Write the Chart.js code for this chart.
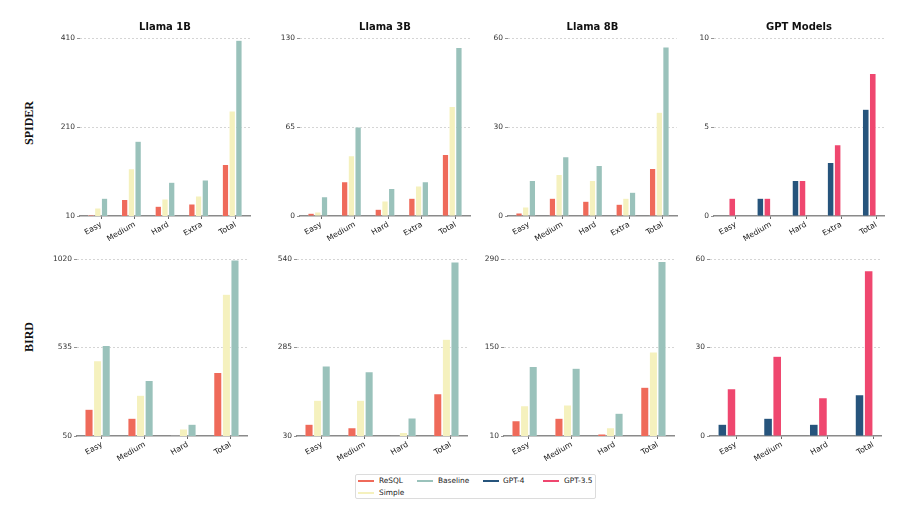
<!DOCTYPE html>
<html>
<head>
<meta charset="utf-8">
<script src="https://cdn.jsdelivr.net/npm/chart.js@4.4.1/dist/chart.umd.min.js"></script>
<style>
  html, body { margin: 0; padding: 0; background: #fff; }
  body { width: 903px; height: 508px; position: relative; overflow: hidden; font-family: "DejaVu Sans", sans-serif; }
  canvas { position: absolute; }
  .rowlab { position: absolute; font-family: "Liberation Serif", "Times New Roman", serif; font-weight: bold; font-size: 12px; color: #111;
            transform: translate(-50%, -50%) rotate(-90deg); white-space: nowrap; }
  #legend { position: absolute; left: 355px; top: 474px; width: 241px; height: 25px; border: 1px solid #dcdcdc; border-radius: 2px; box-sizing: border-box; }
  .sw { position: absolute; height: 2px; width: 16px; }
  .lt { position: absolute; font-size: 7.4px; color: #222; line-height: 8px; white-space: nowrap; }
</style>
</head>
<body>
<div class="rowlab" style="left:29px; top:123px;">SPIDER</div>
<div class="rowlab" style="left:29px; top:337px;">BIRD</div>
<div id="legend"></div>
<script>
// ---------------- data ----------------
const categoriesSpider = ['Easy', 'Medium', 'Hard', 'Extra', 'Total'];
const categoriesBird = ['Easy', 'Medium', 'Hard', 'Total'];

const spider1B_resql    = [12, 47, 32, 37, 126];
const spider1B_simple   = [28, 116, 48, 55, 246];
const spider1B_baseline = [50, 178, 86, 91, 405];

const spider3B_resql    = [2, 25, 5, 13, 45];
const spider3B_simple   = [3, 44, 11, 22, 80];
const spider3B_baseline = [14, 65, 20, 25, 123];

const spider8B_resql    = [1, 6, 5, 4, 16];
const spider8B_simple   = [3, 14, 12, 6, 35];
const spider8B_baseline = [12, 20, 17, 8, 57];

const spiderGpt4  = [0, 1, 2, 3, 6];
const spiderGpt35 = [1, 1, 2, 4, 8];

const bird1B_resql    = [196, 147, 53, 398];
const bird1B_simple   = [462, 274, 88, 827];
const bird1B_baseline = [546, 354, 114, 1014];

const bird3B_resql    = [64, 54, 31, 152];
const bird3B_simple   = [133, 133, 40, 309];
const bird3B_baseline = [232, 215, 82, 531];

const bird8B_resql    = [34, 38, 13, 87];
const bird8B_simple   = [58, 59, 23, 143];
const bird8B_baseline = [120, 117, 46, 286];

const birdGpt4  = [4, 6, 4, 14];
const birdGpt35 = [16, 27, 13, 56];

const yTicksSpider1B = [10, 210, 410];
const yTicksSpider3B = [0, 65, 130];
const yTicksSpider8B = [0, 30, 60];
const yTicksSpiderGpt = [0, 5, 10];
const yTicksBird1B = [50, 535, 1020];
const yTicksBird3B = [30, 285, 540];
const yTicksBird8B = [10, 150, 290];
const yTicksBirdGpt = [0, 30, 60];

const titles = ['Llama 1B', 'Llama 3B', 'Llama 8B', 'GPT Models'];

// ---------------- styles ----------------
const COLORS = {
  'ReSQL': '#EF6A5A',
  'Simple': '#F5F1BE',
  'Baseline': '#9AC2BB',
  'GPT-4': '#26547C',
  'GPT-3.5': '#EF476F'
};

const titlePlugin = {
  id: 'panelTitle',
  afterDraw(chart, args, opts) {
    if (!opts || !opts.text) return;
    const ctx = chart.ctx, a = chart.chartArea;
    ctx.save();
    ctx.font = 'bold 10px "DejaVu Sans"';
    ctx.fillStyle = '#111';
    ctx.textAlign = 'center';
    ctx.textBaseline = 'middle';
    ctx.fillText(opts.text, (a.left + a.right) / 2, a.top - 11);
    ctx.restore();
  }
};

const PADL = 50, PADT = 30, PADR = 10, PADB = 45;

function makePanel(area, categories, series, yTicks, title, isGpt) {
  const [L, R, T, B] = area;
  const cv = document.createElement('canvas');
  const w = Math.round(R - L) + PADL + PADR;
  const h = Math.round(B - T) + PADT + PADB;
  cv.style.width = w + 'px';
  cv.style.height = h + 'px';
  cv.width = w; cv.height = h;
  const wrap = document.createElement('div');
  wrap.style.cssText = 'position:absolute;left:' + Math.round(L - PADL) + 'px;top:' + Math.round(T - PADT) + 'px;width:' + w + 'px;height:' + h + 'px;';
  cv.style.left = '0px'; cv.style.top = '0px';
  wrap.appendChild(cv);
  document.body.appendChild(wrap);

  const n = categories.length;
  const datasets = series.map(s => ({
    label: s.name,
    data: categories.map((c, i) => ({ x: i, y: s.values[i] })),
    backgroundColor: COLORS[s.name],
    borderColor: 'rgba(255,255,255,0.6)',
    borderWidth: 0.5,
    categoryPercentage: 0.8,
    barPercentage: 0.94
  }));
  // empty slots keep the matplotlib-style offset of the bar groups
  while (datasets.length < 4) {
    datasets.push({ label: '', data: categories.map((c, i) => ({ x: i, y: null })), backgroundColor: 'rgba(0,0,0,0)',
                    categoryPercentage: 0.8, barPercentage: 0.94 });
  }
  const lo = -0.4, hi = (n - 1) + (isGpt ? 0 : 0.2);
  const m = 0.05 * (hi - lo);

  new Chart(cv, {
    type: 'bar',
    data: { datasets },
    plugins: [titlePlugin],
    options: {
      responsive: false,
      animation: false,
      events: [],
      layout: { padding: { left: 0, top: PADT, right: PADR, bottom: 0 } },
      plugins: { legend: { display: false }, tooltip: { enabled: false }, panelTitle: { text: title } },
      scales: {
        x: {
          type: 'linear',
          offset: false,
          min: lo - m, max: hi + m,
          afterBuildTicks: s => { s.ticks = categories.map((c, i) => ({ value: i })); },
          afterFit: s => { s.height = PADB; },
          grid: { display: true, offset: false, drawOnChartArea: false, drawTicks: true, tickLength: 3, tickColor: '#444', tickWidth: 0.8 },
          border: { display: true, color: '#8a8a8a', width: 1.4 },
          ticks: {
            autoSkip: false, minRotation: 30, maxRotation: 30, padding: 1,
            color: '#222', font: { family: 'DejaVu Sans', size: 7.8 },
            callback: v => categories[v]
          }
        },
        y: {
          min: yTicks[0], max: yTicks[yTicks.length - 1],
          afterBuildTicks: s => { s.ticks = yTicks.map(v => ({ value: v })); },
          afterFit: s => { s.width = PADL; },
          grid: {
            display: true, drawOnChartArea: true, drawTicks: true, tickLength: 3,
            color: ctx => ctx.index === 0 ? 'rgba(0,0,0,0)' : '#c4c4c4',
            lineWidth: 0.7, tickColor: '#666', tickWidth: 0.7
          },
          border: { display: false, dash: [2, 2] },
          ticks: { color: '#333', font: { family: 'DejaVu Sans', size: 7.5 }, padding: 2, callback: v => String(v) }
        }
      }
    }
  });
}

const topAreas = [[80, 250, 38, 216], [300, 470, 38, 216], [508, 677, 38, 216], [714, 884, 38, 216]];
const botAreas = [[77, 247, 259, 436], [297, 467, 259, 436], [504, 674, 259, 436], [710, 881, 259, 436]];

makePanel(topAreas[0], categoriesSpider, [
  { name: 'ReSQL', values: spider1B_resql }, { name: 'Simple', values: spider1B_simple }, { name: 'Baseline', values: spider1B_baseline }
], yTicksSpider1B, titles[0], false);
makePanel(topAreas[1], categoriesSpider, [
  { name: 'ReSQL', values: spider3B_resql }, { name: 'Simple', values: spider3B_simple }, { name: 'Baseline', values: spider3B_baseline }
], yTicksSpider3B, titles[1], false);
makePanel(topAreas[2], categoriesSpider, [
  { name: 'ReSQL', values: spider8B_resql }, { name: 'Simple', values: spider8B_simple }, { name: 'Baseline', values: spider8B_baseline }
], yTicksSpider8B, titles[2], false);
makePanel(topAreas[3], categoriesSpider, [
  { name: 'GPT-4', values: spiderGpt4 }, { name: 'GPT-3.5', values: spiderGpt35 }
], yTicksSpiderGpt, titles[3], true);

makePanel(botAreas[0], categoriesBird, [
  { name: 'ReSQL', values: bird1B_resql }, { name: 'Simple', values: bird1B_simple }, { name: 'Baseline', values: bird1B_baseline }
], yTicksBird1B, '', false);
makePanel(botAreas[1], categoriesBird, [
  { name: 'ReSQL', values: bird3B_resql }, { name: 'Simple', values: bird3B_simple }, { name: 'Baseline', values: bird3B_baseline }
], yTicksBird3B, '', false);
makePanel(botAreas[2], categoriesBird, [
  { name: 'ReSQL', values: bird8B_resql }, { name: 'Simple', values: bird8B_simple }, { name: 'Baseline', values: bird8B_baseline }
], yTicksBird8B, '', false);
makePanel(botAreas[3], categoriesBird, [
  { name: 'GPT-4', values: birdGpt4 }, { name: 'GPT-3.5', values: birdGpt35 }
], yTicksBirdGpt, '', true);

// ---------------- legend ----------------
const legendItems = [
  { name: 'ReSQL', sx: 2, tx: 23, y: 6 },
  { name: 'Simple', sx: 2, tx: 23, y: 17.5 },
  { name: 'Baseline', sx: 61, tx: 82, y: 6 },
  { name: 'GPT-4', sx: 127, tx: 147, y: 6 },
  { name: 'GPT-3.5', sx: 187, tx: 208, y: 6 }
];
const leg = document.getElementById('legend');
legendItems.forEach(it => {
  const sw = document.createElement('div');
  sw.className = 'sw';
  sw.style.left = it.sx + 'px'; sw.style.top = (it.y - 1) + 'px';
  sw.style.background = COLORS[it.name];
  leg.appendChild(sw);
  const t = document.createElement('div');
  t.className = 'lt';
  t.style.left = it.tx + 'px'; t.style.top = (it.y - 4) + 'px';
  t.textContent = it.name;
  leg.appendChild(t);
});
</script>
</body>
</html>
